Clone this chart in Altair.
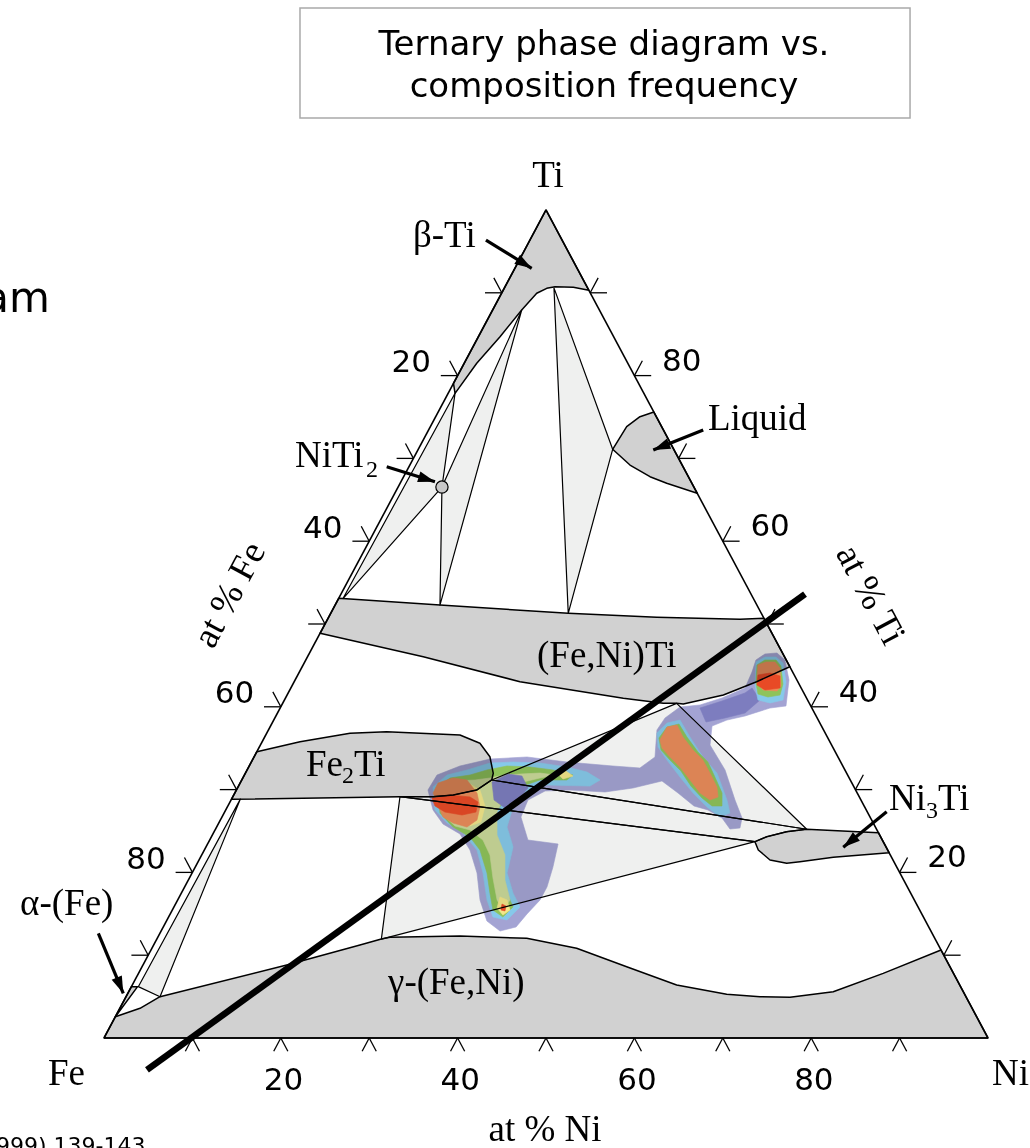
import math
import altair as alt
import pandas as pd

# ------------------------------------------------------------------
# Fe-Ni-Ti section with composition-frequency map.
# Every vertex is a composition: (at % Ni, at % Ti); Fe = 100 - Ni - Ti
# ------------------------------------------------------------------

# single-phase fields (gray)
BETA_TI = [(0, 100), (9.7, 90.3), (7.76, 90.66), (5.65, 90.74), (4.81, 90.54), (3.98, 89.94),
           (3.29, 87.92), (2.45, 84.70), (1.42, 81.49), (0.78, 77.86), (0, 79.07)]
LIQUID = [(21.99, 71.10), (22.21, 73.83), (23.11, 75.04), (24.4, 75.6), (34.2, 65.8),
          (30.16, 66.99), (27.87, 67.79), (24.90, 69.20)]
FENI_TI = [(0, 53.10), (11.86, 52.29), (26.87, 51.29), (37.12, 50.81), (46.66, 50.57), (49.31, 50.69),
           (55.16, 44.84), (52.31, 43.03), (49.35, 41.43), (45.36, 40.34), (44.57, 40.42), (43.06, 40.42),
           (38.23, 41.03), (25.54, 43.03), (13.09, 46.05), (0, 48.88)]
FE2_TI = [(0, 34.58), (4.28, 35.79), (9.43, 36.80), (13.48, 36.99), (21.97, 36.59), (24.73, 35.59),
          (26.67, 33.97), (28.05, 31.97), (28.28, 31.16), (27.18, 29.95), (24.84, 29.35), (22.68, 29.14),
          (18.91, 29.14), (0, 28.83)]
NI3_TI = [(61.78, 23.71), (62.81, 24.31), (64.77, 24.92), (66.89, 25.21), (75.20, 24.80), (77.62, 22.38),
          (71.59, 21.82), (68.08, 21.29), (66.68, 21.10), (64.59, 21.50), (62.66, 22.71)]
GAMMA = [(0, 2.57), (2.28, 3.59), (3.84, 4.99), (16.26, 8.82), (23.34, 11.23), (25.4, 11.95),
         (26.27, 12.16), (34.11, 12.32), (41.80, 12.04), (48.05, 10.83), (54.82, 8.61), (61.58, 6.40),
         (67.80, 5.28), (71.72, 4.99), (75.14, 4.92), (79.70, 5.59), (84.24, 7.81), (89.37, 10.63),
         (100, 0), (0, 0)]
ALPHA = [(0, 2.57), (0, 6.20), (0.7, 6.20)]

# three-phase triangles (light gray)
TRI_BETA_LIQ = [(5.6, 90.6), (21.99, 71.10), (26.87, 51.29)]
TRI_BETA_NITI2 = [(3.3, 87.9), (4.96, 66.54), (11.86, 52.29)]
TRI_EDGE_NITI2 = [(0.78, 77.86), (4.96, 66.54), (0.5, 53.07)]
TRI_FE2TI_TOP = [(28.28, 31.16), (44.57, 40.42), (66.89, 25.21)]
BAND_FE2TI_NI3TI = [(18.91, 29.14), (22.68, 29.14), (24.84, 29.35), (27.18, 29.95), (28.28, 31.16),
                    (66.89, 25.21), (64.77, 24.92), (62.81, 24.31), (61.78, 23.71)]
TRI_FE2TI_LOW = [(18.91, 29.14), (61.78, 23.71), (25.4, 11.95)]
TRI_ALPHA = [(0.78, 6.20), (3.84, 4.99), (1.0, 28.85)]

NITI2_POINT = (4.96, 66.54)

# composition-frequency contour levels
LAVENDER_ALL = [(21.67, 29.95), (21.79, 31.76), (23.84, 32.85), (26.81, 33.69), (30.88, 33.94),
                (35.70, 33.33), (41.15, 32.85), (44.32, 32.61), (45.36, 33.94), (43.95, 37.20),
                (44.14, 38.65), (45.17, 39.97), (47.31, 40.22), (49.38, 41.06), (51.38, 42.27),
                (51.20, 44.20), (50.92, 45.65), (51.58, 46.38), (52.88, 46.50), (54.20, 45.65),
                (55.87, 43.24), (57.10, 40.10), (55.41, 39.85), (53.07, 38.89), (51.27, 38.40),
                (49.94, 37.68), (50.86, 35.39), (54.07, 32.37), (57.01, 28.74), (58.89, 26.57),
                (59.26, 25.36), (58.19, 25.24), (56.63, 26.57), (54.55, 27.54), (52.73, 28.02),
                (50.14, 29.59), (47.60, 31.04), (44.74, 30.19), (41.82, 29.71), (37.73, 29.95),
                (34.98, 29.83), (33.59, 28.74), (33.82, 26.69), (36.00, 23.91), (39.65, 23.43),
                (40.46, 20.65), (40.99, 18.24), (40.99, 16.67), (40.36, 14.98), (39.91, 13.41),
                (38.34, 12.92), (36.25, 14.13), (34.20, 16.67), (32.23, 19.93), (30.05, 22.70),
                (27.95, 24.64), (25.43, 25.84), (23.45, 27.54)]
PURPLE_STREAK = [(47.49, 39.85), (49.56, 40.70), (51.68, 41.67), (52.17, 42.27), (53.80, 40.82),
                 (52.89, 39.25), (50.93, 38.65), (49.02, 38.16)]
BLUE_A = [(22.06, 30.31), (22.92, 31.76), (24.88, 32.37), (27.05, 33.21), (29.60, 33.33), (32.71, 33.21),
          (36.00, 32.73), (38.58, 32.12), (40.53, 31.16), (39.76, 30.43), (34.83, 30.55), (32.61, 29.59),
          (32.32, 27.90), (32.85, 25.48), (34.74, 23.07), (35.63, 19.93), (37.51, 17.51), (39.15, 15.82),
          (38.46, 14.25), (36.69, 14.61), (34.99, 16.67), (32.91, 19.93), (30.84, 22.70), (28.23, 24.76),
          (25.82, 25.97), (23.67, 27.54)]
BLUE_B = [(44.14, 36.83), (44.67, 38.04), (45.96, 38.40), (48.11, 36.35), (50.79, 33.94), (53.34, 32.00),
          (56.10, 28.74), (57.22, 27.17), (56.33, 26.69), (54.26, 27.90), (51.84, 29.59), (49.40, 31.52),
          (46.90, 33.57), (45.10, 35.14)]
BLUE_C = [(51.05, 45.41), (51.76, 46.01), (53.01, 46.01), (54.17, 45.29), (55.65, 42.99), (56.40, 40.82),
          (55.11, 40.46), (53.57, 40.82), (52.32, 42.63)]
GREEN_A = [(22.62, 30.31), (23.44, 31.40), (25.52, 31.76), (27.14, 32.37), (29.16, 32.85), (31.82, 32.73),
           (34.61, 32.37), (37.17, 31.76), (36.79, 31.16), (33.74, 31.16), (31.90, 30.31), (31.22, 28.74),
           (30.41, 27.17), (31.28, 24.76), (33.63, 22.34), (34.84, 19.93), (36.83, 17.51), (38.36, 15.82),
           (37.82, 14.61), (36.27, 15.46), (34.90, 17.51), (33.36, 19.93), (31.18, 22.70), (29.26, 24.27),
           (26.74, 25.48), (24.42, 27.17)]
GREEN_B = [(44.66, 36.23), (44.91, 37.56), (46.08, 37.92), (47.77, 36.35), (49.92, 34.54), (51.65, 33.33),
           (53.12, 31.76), (55.12, 29.59), (55.90, 28.02), (54.77, 28.02), (53.16, 28.98), (51.18, 30.43),
           (49.14, 32.25), (47.24, 33.57), (45.62, 34.78)]
GREEN_C = [(51.34, 45.05), (51.94, 45.65), (53.19, 45.65), (54.11, 44.93), (55.43, 42.75), (55.76, 41.42),
           (54.52, 41.18), (53.21, 41.54), (52.31, 42.87)]
KHAKI_A = [(22.91, 30.19), (24.19, 31.04), (26.39, 31.16), (27.96, 31.40), (29.48, 31.76), (31.12, 31.88),
           (33.32, 32.00), (35.14, 31.76), (33.62, 31.40), (31.15, 30.68), (30.69, 29.35), (30.81, 27.29),
           (32.20, 24.52), (34.31, 22.10), (35.82, 19.08), (37.60, 16.67), (37.40, 15.46), (36.13, 16.67),
           (34.34, 19.32), (32.61, 22.10), (30.91, 23.91), (28.84, 25.12), (26.91, 25.60), (24.88, 26.93)]
PURPLE_CORE = [(28.43, 30.92), (29.76, 31.88), (31.46, 31.64), (32.86, 30.19), (32.46, 28.74),
               (31.47, 27.78), (29.75, 28.74)]
YELLOW_A = [(26.06, 30.68), (27.55, 29.95), (29.09, 28.02), (29.60, 26.09), (28.60, 25.60), (27.84, 28.02)]
YELLOW_TAIL = [(36.28, 17.03), (37.26, 16.67), (38.20, 15.46), (37.70, 14.85), (36.61, 15.70)]
YELLOW_ARM = [(35.07, 32.12), (36.13, 32.25), (37.23, 31.64), (36.28, 31.28)]
ORANGE_A = [(22.43, 29.59), (22.38, 30.80), (23.78, 31.40), (25.48, 31.16), (27.40, 29.59), (28.58, 27.90),
            (29.03, 26.33), (28.32, 25.48), (26.50, 25.97), (25.00, 26.69), (23.48, 28.38)]
ORANGE_B = [(44.89, 35.99), (44.91, 37.56), (45.92, 37.80), (47.32, 36.35), (49.24, 34.78), (50.97, 33.57),
            (52.55, 32.00), (54.18, 30.31), (54.91, 29.11), (54.18, 28.74), (52.63, 29.59), (50.71, 31.16),
            (48.79, 32.73), (47.06, 33.94), (45.61, 35.02)]
ORANGE_C = [(51.45, 45.05), (52.19, 45.41), (53.20, 45.41), (54.13, 44.68), (55.32, 42.51), (55.18, 41.91),
            (53.54, 42.03), (52.43, 42.87)]
RED_A = [(22.61, 28.98), (24.47, 29.35), (26.85, 29.11), (28.06, 28.50), (28.43, 27.29), (27.03, 26.93),
         (24.92, 27.29), (23.43, 28.02)]
RED_C = [(52.06, 43.84), (53.30, 44.08), (54.61, 43.72), (55.34, 42.27), (53.76, 42.03), (52.55, 42.63)]
RED_TAIL = [(36.93, 16.18), (37.50, 15.94), (37.69, 15.34), (37.18, 15.46)]

# cut line drawn across the section
SECTION_LINE = [(6.79, -3.86), (52.49, 53.62)]

# labelled arrows: (start, tip)
ARROWS = [((-4.98, 96.37), (1.90, 92.96)),
          ((-2.52, 69.00), (3.85, 67.18)),
          ((31.07, 73.43), (26.63, 71.01)),
          ((74.87, 27.33), (72.11, 23.03)),
          ((-6.96, 12.64), (-0.52, 5.40))]

TICKS = [10, 20, 30, 40, 50, 60, 70, 80, 90]
TICK_LABELS = [20, 40, 60, 80]

# ------------------------------------------------------------------
W, H = 1030, 1148
XMIN, XMAX = -11.765, 104.751
YMIN, YMAX = -13.285, 125.362
KX, KY = W / (XMAX - XMIN), H / (YMAX - YMIN)

XS = alt.Scale(domain=[XMIN, XMAX], nice=False, zero=False)
YS = alt.Scale(domain=[YMIN, YMAX], nice=False, zero=False)
X = alt.X("x:Q", scale=XS, axis=None)
Y = alt.Y("y:Q", scale=YS, axis=None)

SERIF = "Liberation Serif"
SANS = "DejaVu Sans"
GRAY = "#d1d1d1"
LIGHT = "#eff0ef"


def cart(ni, ti):
    """ternary composition -> plot units"""
    return ni + ti / 2.0, ti


def frame(polys):
    rows = []
    for name, pts in polys.items():
        for k, (ni, ti) in enumerate(pts):
            x, y = cart(ni, ti)
            rows.append({"poly": name, "k": k, "x": x, "y": y})
    return pd.DataFrame(rows)


def fill_layer(polys, color, stroke=None, width=0.0, blend=None):
    kw = dict(interpolate="linear-closed", fill=color, strokeJoin="round")
    if stroke:
        kw.update(stroke=stroke, strokeWidth=width)
    else:
        kw.update(stroke=color, strokeWidth=0.6)
    if blend:
        kw["blend"] = blend
    return alt.Chart(frame(polys)).mark_line(**kw).encode(
        x=X, y=Y, detail="poly:N", order="k:Q")


def seg_layer(segs, color="black", width=1.2, cap="butt"):
    rows = []
    for a, b in segs:
        x1, y1 = cart(*a)
        x2, y2 = cart(*b)
        rows.append({"x": x1, "y": y1, "x2": x2, "y2": y2})
    return alt.Chart(pd.DataFrame(rows)).mark_rule(
        color=color, strokeWidth=width, strokeCap=cap).encode(
        x=X, y=Y, x2="x2:Q", y2="y2:Q")


def text_layer(rows, font, size, align="left", baseline="alphabetic", angle=0, color="black"):
    df = pd.DataFrame(rows, columns=["label", "x", "y"])
    return alt.Chart(df).mark_text(font=font, fontSize=size, align=align, baseline=baseline,
                                   angle=angle, color=color).encode(x=X, y=Y, text="label:N")


layers = []

# title box
box = pd.DataFrame([{"x": 22.17, "x2": 91.18, "y": 124.4, "y2": 111.1}])
layers.append(alt.Chart(box).mark_rect(fill="white", stroke="#a9a9a9", strokeWidth=1.5).encode(
    x=X, y=Y, x2="x2:Q", y2="y2:Q"))

# frequency map, lowest level first
levels = [
    ("#a3a3d3", {"lav": LAVENDER_ALL}),
    ("#7d7dbf", {"ps": PURPLE_STREAK}),
    ("#86c9ea", {"ba": BLUE_A, "bb": BLUE_B, "bc": BLUE_C}),
    ("#8fc35a", {"ga": GREEN_A, "gb": GREEN_B, "gc": GREEN_C}),
    ("#cbd99a", {"ka": KHAKI_A}),
    ("#7d7dbf", {"pc": PURPLE_CORE}),
    ("#f3e68a", {"ya": YELLOW_A, "yt": YELLOW_TAIL, "yr": YELLOW_ARM}),
    ("#eb8c5a", {"oa": ORANGE_A, "ob": ORANGE_B, "oc": ORANGE_C}),
    ("#e84a26", {"ra": RED_A, "rc": RED_C, "rt": RED_TAIL}),
]
for color, polys in levels:
    layers.append(fill_layer(polys, color))

# phase fields laid over the map (multiply keeps the map visible through them)
layers.append(fill_layer({"t1": TRI_BETA_LIQ, "t2": TRI_BETA_NITI2, "t3": TRI_EDGE_NITI2,
                          "t4": TRI_FE2TI_TOP, "t5": BAND_FE2TI_NI3TI, "t6": TRI_FE2TI_LOW,
                          "t7": TRI_ALPHA},
                         LIGHT, stroke="black", width=1.2, blend="multiply"))
layers.append(fill_layer({"beta": BETA_TI, "liq": LIQUID, "feniti": FENI_TI, "fe2ti": FE2_TI,
                          "ni3ti": NI3_TI, "gamma": GAMMA, "alpha": ALPHA},
                         GRAY, stroke="black", width=1.5, blend="multiply"))

# triangle frame
layers.append(seg_layer([((0, 0), (100, 0)), ((100, 0), (0, 100)), ((0, 100), (0, 0))], width=1.6))

# ticks on the three edges
tick_segs = []
for v in TICKS:
    tick_segs += [((0, v), (-1.9, v)), ((0, v), (-1.8, v + 1.8)),
                  ((100 - v, v), (100 - v + 1.9, v)), ((100 - v, v), (100 - v, v + 1.8)),
                  ((v, 0), (v, -1.6)), ((v, 0), (v + 1.6, -1.6))]
layers.append(seg_layer(tick_segs, width=1.3))

# cut line
layers.append(seg_layer([tuple(SECTION_LINE)], width=6.5))

# NiTi2 compound
nx, ny = cart(*NITI2_POINT)
layers.append(alt.Chart(pd.DataFrame([{"x": nx, "y": ny}])).mark_point(
    shape="circle", filled=True, fill="#c9c9c9", stroke="black", strokeWidth=1.2, size=150,
    opacity=1).encode(x=X, y=Y))

# arrows
layers.append(seg_layer(ARROWS, width=3.2))
heads = []
for a, b in ARROWS:
    xa, ya = cart(*a)
    xb, yb = cart(*b)
    dx, dy = (xb - xa) * KX, -(yb - ya) * KY
    heads.append({"x": xb, "y": yb, "angle": math.degrees(math.atan2(dx, -dy)) % 360})
layers.append(alt.Chart(pd.DataFrame(heads)).mark_point(
    shape="M0,0L-0.65,2L0.65,2Z", filled=True, color="black", size=289, opacity=1).encode(
    x=X, y=Y, angle=alt.Angle("angle:Q", scale=None)))

# tick labels
left_lab = [(str(v), -6 + (101.5 - v) / 2, 101.5 - v) for v in TICK_LABELS]
right_lab = [(str(v), 104.5 - v + (v + 1.7) / 2, v + 1.7) for v in TICK_LABELS]
bottom_lab = [(str(v), v + 0.3, -5.2) for v in TICK_LABELS]
layers.append(text_layer(left_lab + right_lab + bottom_lab, SANS, 31, align="center", baseline="middle"))

# phase names and corner labels
layers.append(text_layer([("β-Ti", 34.95, 95.53), ("Liquid", 68.32, 73.43), ("NiTi", 21.61, 68.96),
                          ("(Fe,Ni)Ti", 48.98, 44.81), ("Fe", 22.85, 31.64), ("Ti", 28.28, 31.64),
                          ("Ni", 88.80, 27.54), ("Ti", 94.34, 27.54), ("γ-(Fe,Ni)", 32.13, 5.31),
                          ("α-(Fe)", -9.50, 14.85), ("Fe", -6.33, -5.68), ("Ni", 100.45, -5.68)],
                         SERIF, 37))
layers.append(text_layer([("2", 29.64, 67.75), ("2", 26.92, 30.80), ("3", 93.00, 26.61)], SERIF, 24))
layers.append(text_layer([("Ti", 50.23, 102.81), ("at % Ni", 49.89, -12.44)], SERIF, 37, align="center"))
layers.append(text_layer([("at % Fe", 14.25, 53.50)], SERIF, 37, align="center", baseline="middle",
                         angle=298))
layers.append(text_layer([("at % Ti", 86.65, 53.50)], SERIF, 37, align="center", baseline="middle",
                         angle=62))

# title and slide remnants
layers.append(text_layer([("Ternary phase diagram vs.", 56.56, 118.72),
                          ("composition frequency", 56.56, 113.65)], SANS, 34, align="center"))
layers.append(text_layer([("am", -6.11, 87.68)], SANS, 42, align="right"))
layers.append(text_layer([("999) 139-143", -12.22, -13.89)], SANS, 22))

chart = alt.layer(*layers).properties(
    width=W, height=H, padding=0, autosize=alt.AutoSizeParams(type="none")
).configure_view(stroke=None)

chart.save("out.html", embed_options={"renderer": "svg", "actions": False})
